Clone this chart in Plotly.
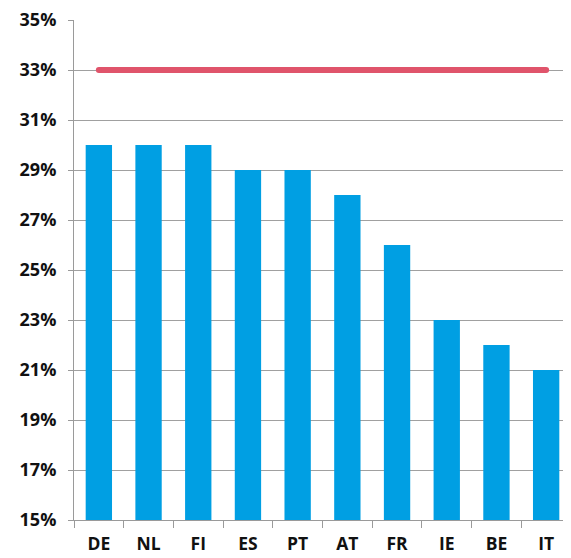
import plotly.graph_objects as go

countries = ["DE", "NL", "FI", "ES", "PT", "AT", "FR", "IE", "BE", "IT"]
values = [30, 30, 30, 29, 29, 28, 26, 23, 22, 21]
target = 33
y_ticks = [15, 17, 19, 21, 23, 25, 27, 29, 31, 33, 35]
y_tick_labels = [f"{v}%" for v in y_ticks]

fig = go.Figure()
fig.add_trace(go.Bar(x=countries, y=values, marker=dict(color="#009fe3", line=dict(width=0)),
                     showlegend=False, hoverinfo="skip"))
fig.add_trace(go.Scatter(x=[countries[0], countries[-1]], y=[target, target], mode="lines+markers",
                         line=dict(color="#e0546b", width=6),
                         marker=dict(color="#e0546b", size=6, line=dict(width=0)),
                         showlegend=False, hoverinfo="skip"))

yfont = dict(family="Open Sans", size=18, color="#111111", weight="bold")
xfont = dict(family="Open Sans", size=17.5, color="#111111", weight="bold")
fig.update_layout(
    width=563, height=550,
    margin=dict(l=66, r=0, t=12, b=38, autoexpand=False),
    plot_bgcolor="white", paper_bgcolor="white",
    bargap=0.47,
    xaxis=dict(showline=True, linecolor="#9a9a9a", linewidth=1, ticks="outside",
               tickson="boundaries", ticklen=7, tickcolor="#9a9a9a", tickfont=xfont,
               showgrid=False, range=[-0.5, 9.5], ticklabelstandoff=8,
               ticklabeloverflow="allow", automargin=False),
    yaxis=dict(range=[15, 35], tickvals=y_ticks, ticktext=y_tick_labels, showline=True,
               linecolor="#9a9a9a", linewidth=1, ticks="outside", ticklen=5,
               tickcolor="#9a9a9a", gridcolor="#a0a0a0", gridwidth=1, tickfont=yfont,
               zeroline=False, ticklabelstandoff=8, ticklabeloverflow="allow",
               automargin=False),
)
fig.write_html("out.html")
